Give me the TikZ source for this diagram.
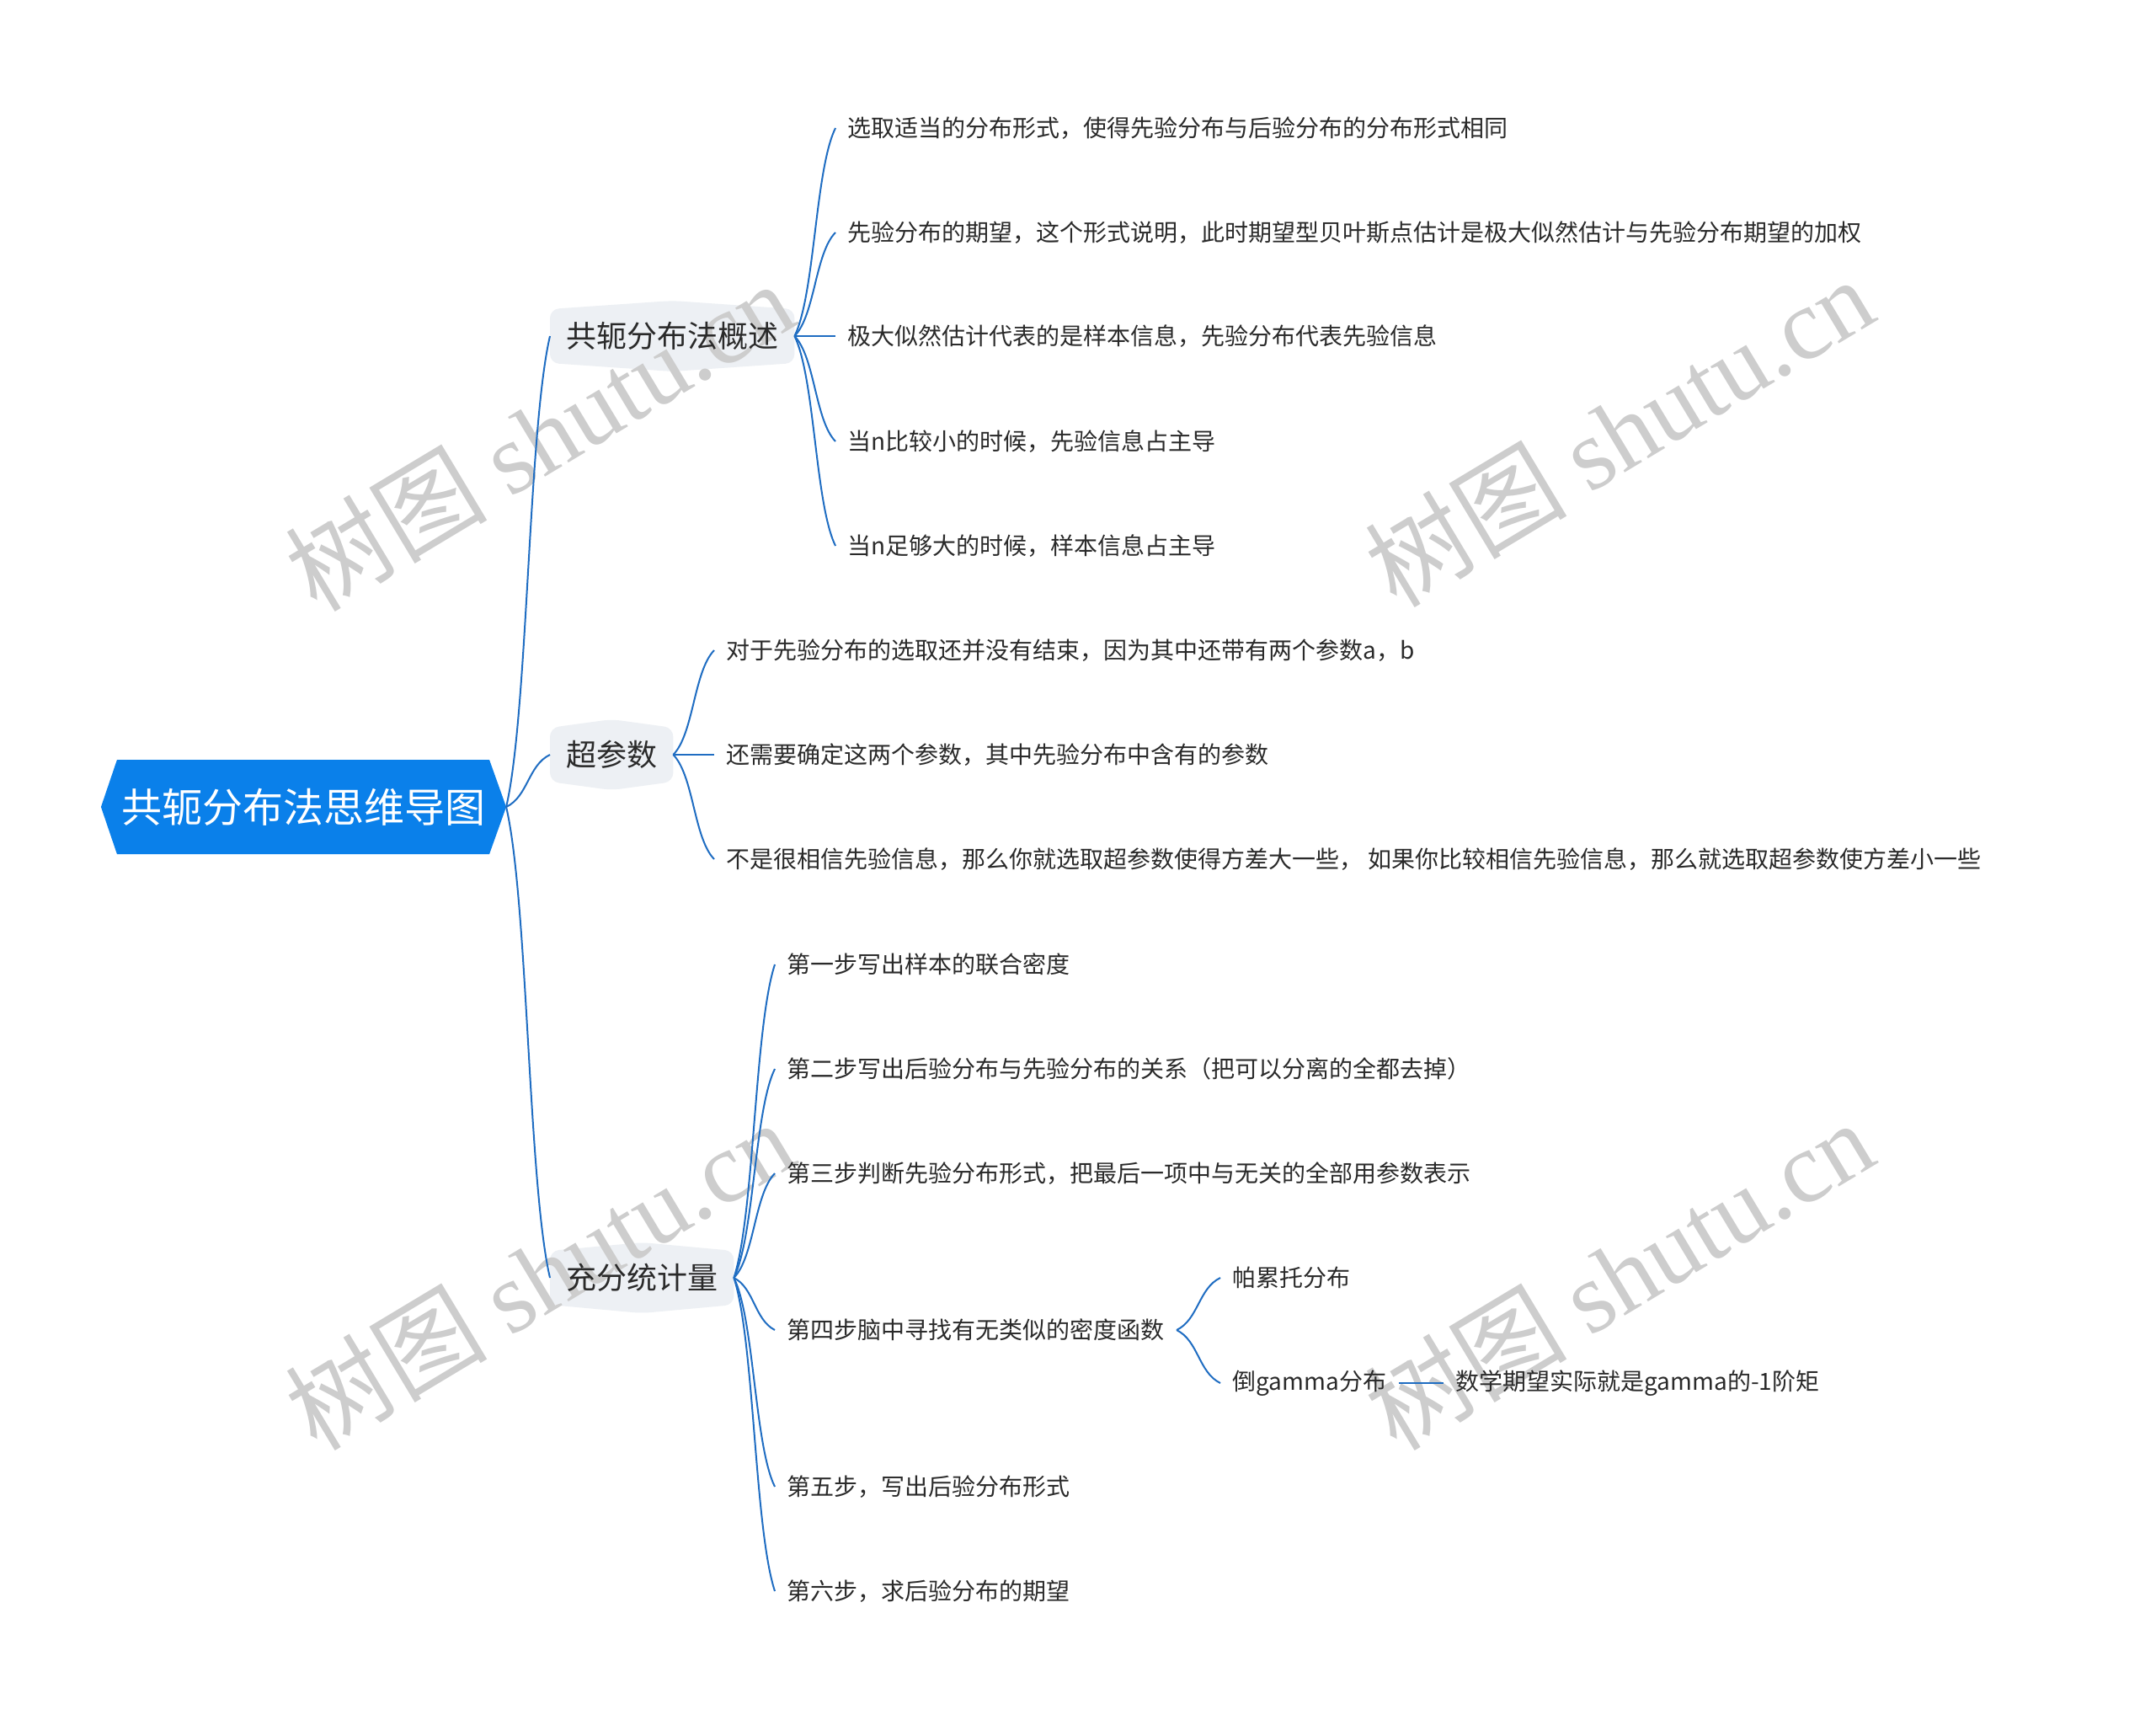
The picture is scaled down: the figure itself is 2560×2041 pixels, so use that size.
\documentclass[tikz,border=0pt]{standalone}
\usepackage{fontspec}
\setmainfont{Noto Sans CJK SC}
\newfontfamily\wmlatin{Liberation Serif}
\usetikzlibrary{calc}
\pgfdeclarelayer{background}
\pgfdeclarelayer{wmlayer}
\pgfsetlayers{background,wmlayer,main}
\definecolor{rootblue}{HTML}{0A80EA}
\definecolor{linkblue}{HTML}{1F6DC2}
\definecolor{boxgray}{HTML}{EDF0F4}
\definecolor{txtc}{HTML}{2A2A2A}
\definecolor{wmc}{HTML}{CDCDCD}
\newcommand\curvelink[2]{%
  \draw[link] let \p1=(#1), \p2=(#2) in (\p1) .. controls
    ({\x1+0.5*(\x2-\x1)},{\y1+0.2*(\y2-\y1)}) and
    ({\x2-0.5*(\x2-\x1)},{\y2-0.2*(\y2-\y1)}) .. (\p2);}
\newcommand\branchbox[1]{%
  \begin{pgfonlayer}{background}
  \fill[boxgray, rounded corners=4pt] (#1.south west) -- (#1.north west) -- ($(#1.north)+(0,-10)$) -- (#1.north east) -- (#1.south east) -- ($(#1.south)+(0,10)$) -- cycle;
  \end{pgfonlayer}}
\begin{document}
\begin{tikzpicture}[x=0.375pt,y=-0.375pt,
  rootnode/.style={inner sep=0pt, minimum width=165.4pt, minimum height=41.6pt, text=white, font=\fontsize{18}{18}\selectfont},
  branchnode/.style={inner xsep=7pt, inner ysep=0pt, minimum height=23.6pt, text=txtc, font=\fontsize{13.5}{13.5}\selectfont, anchor=west},
  leafnode/.style={inner xsep=5.25pt, inner ysep=2pt, text=txtc, font=\fontsize{10.5}{10.5}\selectfont, anchor=west},
  link/.style={draw=linkblue, line width=0.75pt},
  wmark/.style={text=wmc, rotate=31, inner sep=0pt, font=\fontsize{45}{45}\selectfont}
]
\useasboundingbox (0,0) rectangle (2560,2041);
\begin{pgfonlayer}{background}
\fill[white] (0,0) rectangle (2560,2041);
\end{pgfonlayer}

% root
\node[rootnode] (root) at (360,958) {共轭分布法思维导图};
\fill[rootblue] (root.north west) -- (root.north east) -- ($(root.east)+(20,0)$) coordinate (rootTip) -- (root.south east) -- (root.south west) -- ($(root.west)+(-19,0)$) -- cycle;
\node[rootnode] at (root.center) {共轭分布法思维导图};

% branches
\node[branchnode] (b1) at (653,399) {共轭分布法概述};
\node[branchnode] (b2) at (653,896) {超参数};
\node[branchnode] (b3) at (653,1517) {充分统计量};
\branchbox{b1}\branchbox{b2}\branchbox{b3}

\curvelink{rootTip}{b1.west}
\curvelink{rootTip}{b2.west}
\curvelink{rootTip}{b3.west}

% branch 1 leaves
\node[leafnode] (l11) at (992,152) {选取适当的分布形式，使得先验分布与后验分布的分布形式相同};
\node[leafnode] (l12) at (992,276) {先验分布的期望，这个形式说明，此时期望型贝叶斯点估计是极大似然估计与先验分布期望的加权};
\node[leafnode] (l13) at (992,399) {极大似然估计代表的是样本信息，先验分布代表先验信息};
\node[leafnode] (l14) at (992,524) {当n比较小的时候，先验信息占主导};
\node[leafnode] (l15) at (992,648) {当n足够大的时候，样本信息占主导};
\foreach \nd in {l11,l12,l13,l14,l15} {\curvelink{b1.east}{\nd.west}}

% branch 2 leaves
\node[leafnode] (l21) at (848,772) {对于先验分布的选取还并没有结束，因为其中还带有两个参数a，b};
\node[leafnode] (l22) at (848,896) {还需要确定这两个参数，其中先验分布中含有的参数};
\node[leafnode] (l23) at (848,1020) {不是很相信先验信息，那么你就选取超参数使得方差大一些， 如果你比较相信先验信息，那么就选取超参数使方差小一些};
\foreach \nd in {l21,l22,l23} {\curvelink{b2.east}{\nd.west}}

% branch 3 leaves
\node[leafnode] (l31) at (920,1145) {第一步写出样本的联合密度};
\node[leafnode] (l32) at (920,1269) {第二步写出后验分布与先验分布的关系（把可以分离的全都去掉）};
\node[leafnode] (l33) at (920,1393) {第三步判断先验分布形式，把最后一项中与无关的全部用参数表示};
\node[leafnode] (l34) at (920,1579) {第四步脑中寻找有无类似的密度函数};
\node[leafnode] (l35) at (920,1765) {第五步，写出后验分布形式};
\node[leafnode] (l36) at (920,1889) {第六步，求后验分布的期望};
\foreach \nd in {l31,l32,l33,l34,l35,l36} {\curvelink{b3.east}{\nd.west}}

% step 4 children
\node[leafnode] (l341) at (1449,1517) {帕累托分布};
\node[leafnode] (l342) at (1449,1642) {倒gamma分布};
\curvelink{l34.east}{l341.west}
\curvelink{l34.east}{l342.west}
\node[leafnode] (l3421) at (1714,1642) {数学期望实际就是gamma的-1阶矩};
\draw[link] (l342.east) -- (l3421.west);

% watermarks
\begin{pgfonlayer}{wmlayer}
\node[wmark] (wm1) at (640,517) {树图 {\wmlatin shutu.cn}};
\node[wmark] (wm2) at (1922,512) {树图 {\wmlatin shutu.cn}};
\node[wmark] (wm3) at (640,1513) {树图 {\wmlatin shutu.cn}};
\node[wmark] (wm4) at (1922,1513) {树图 {\wmlatin shutu.cn}};
\end{pgfonlayer}
\end{tikzpicture}
\end{document}
